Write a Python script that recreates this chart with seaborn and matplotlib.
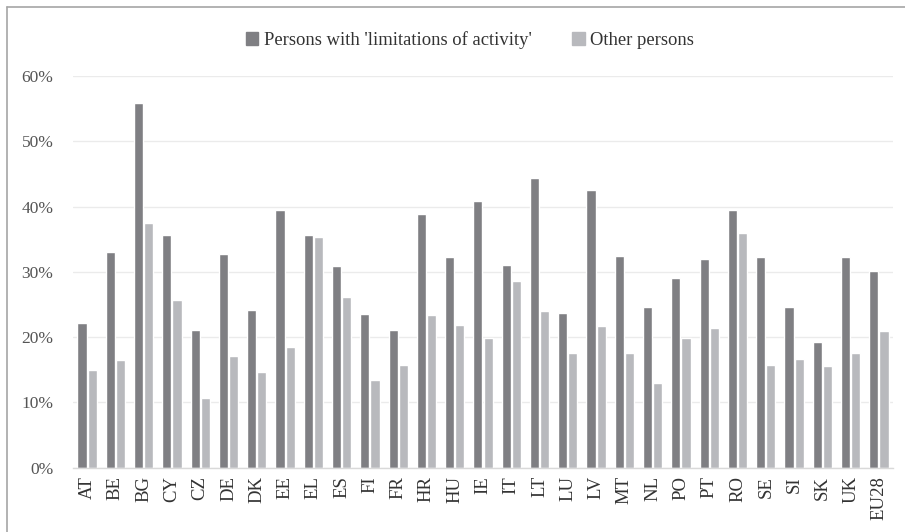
import matplotlib
matplotlib.use("Agg")
import matplotlib.pyplot as plt
import seaborn as sns
import pandas as pd
from matplotlib.ticker import FuncFormatter
from matplotlib.lines import Line2D

countries = ["AT", "BE", "BG", "CY", "CZ", "DE", "DK", "EE", "EL", "ES", "FI", "FR", "HR", "HU",
             "IE", "IT", "LT", "LU", "LV", "MT", "NL", "PO", "PT", "RO", "SE", "SI", "SK", "UK", "EU28"]
limited = [22.2, 33.0, 55.8, 35.6, 21.1, 32.7, 24.2, 39.5, 35.6, 30.9, 23.5, 21.1, 38.8, 32.3,
           40.8, 31.0, 44.4, 23.7, 42.5, 32.4, 24.6, 29.1, 32.0, 39.5, 32.3, 24.6, 19.2, 32.3, 30.1]
others = [15.0, 16.5, 37.5, 25.7, 10.7, 17.1, 14.7, 18.5, 35.3, 26.1, 13.4, 15.7, 23.4, 21.9,
          19.9, 28.6, 24.0, 17.6, 21.7, 17.6, 13.0, 19.9, 21.4, 35.9, 15.7, 16.6, 15.6, 17.6, 20.9]
series_names = ["Persons with 'limitations of activity'", "Other persons"]

df = pd.DataFrame({
    "country": countries * 2,
    "value": [v / 100 for v in limited] + [v / 100 for v in others],
    "group": [series_names[0]] * len(countries) + [series_names[1]] * len(countries),
})

sns.set_theme(style="white")
plt.rcParams["font.family"] = ["Liberation Serif", "DejaVu Serif"]

fig = plt.figure(figsize=(9.05, 5.32), dpi=100)
ax = fig.add_axes([73 / 905, 1 - 467.7 / 532, 820 / 905, (467.7 - 76) / 532])

dark = "#7f7f83"
light = "#b8b9bd"
sns.barplot(data=df, x="country", y="value", hue="group", order=countries,
            hue_order=series_names, palette=[dark, light], width=0.72, gap=0.1,
            saturation=1, ax=ax, legend=False)

ax.set_ylim(0, 0.6)
ax.set_xlim(-0.5, len(countries) - 0.5)
ax.yaxis.set_major_formatter(FuncFormatter(lambda v, p: f"{v * 100:.0f}%"))
ax.set_yticks([0, 0.1, 0.2, 0.3, 0.4, 0.5, 0.6])
ax.grid(axis="y", color="#ebebeb", linewidth=1)
ax.set_axisbelow(True)
for s in ["top", "right", "left"]:
    ax.spines[s].set_visible(False)
ax.spines["bottom"].set_color("#d9d9d9")
ax.spines["bottom"].set_linewidth(1)
ax.set_xlabel("")
ax.set_ylabel("")
ax.tick_params(axis="x", labelrotation=90, labelsize=13.5, colors="#333333", length=0, pad=6)
ax.tick_params(axis="y", labelsize=12.5, colors="#555555", length=0, pad=14)
for lab in ax.get_xticklabels():
    lab.set_color("#333333")

handles = [plt.Rectangle((0, 0), 1, 1, color=dark), plt.Rectangle((0, 0), 1, 1, color=light)]
fig.legend(handles, series_names, loc="center", bbox_to_anchor=(470 / 905, 1 - 40 / 532),
           ncol=2, frameon=False, fontsize=13.4, handlelength=0.65, handleheight=0.65,
           handletextpad=0.3, columnspacing=2.2, labelcolor="#333333")

fig.add_artist(Line2D([6.5 / 905, 6.5 / 905], [0, 1 - 7 / 532], transform=fig.transFigure,
                      color="#a6a6a6", linewidth=1.2))
fig.add_artist(Line2D([6.5 / 905, 1], [1 - 7 / 532, 1 - 7 / 532], transform=fig.transFigure,
                      color="#a6a6a6", linewidth=1.2))

fig.savefig("out.png", dpi=100)
